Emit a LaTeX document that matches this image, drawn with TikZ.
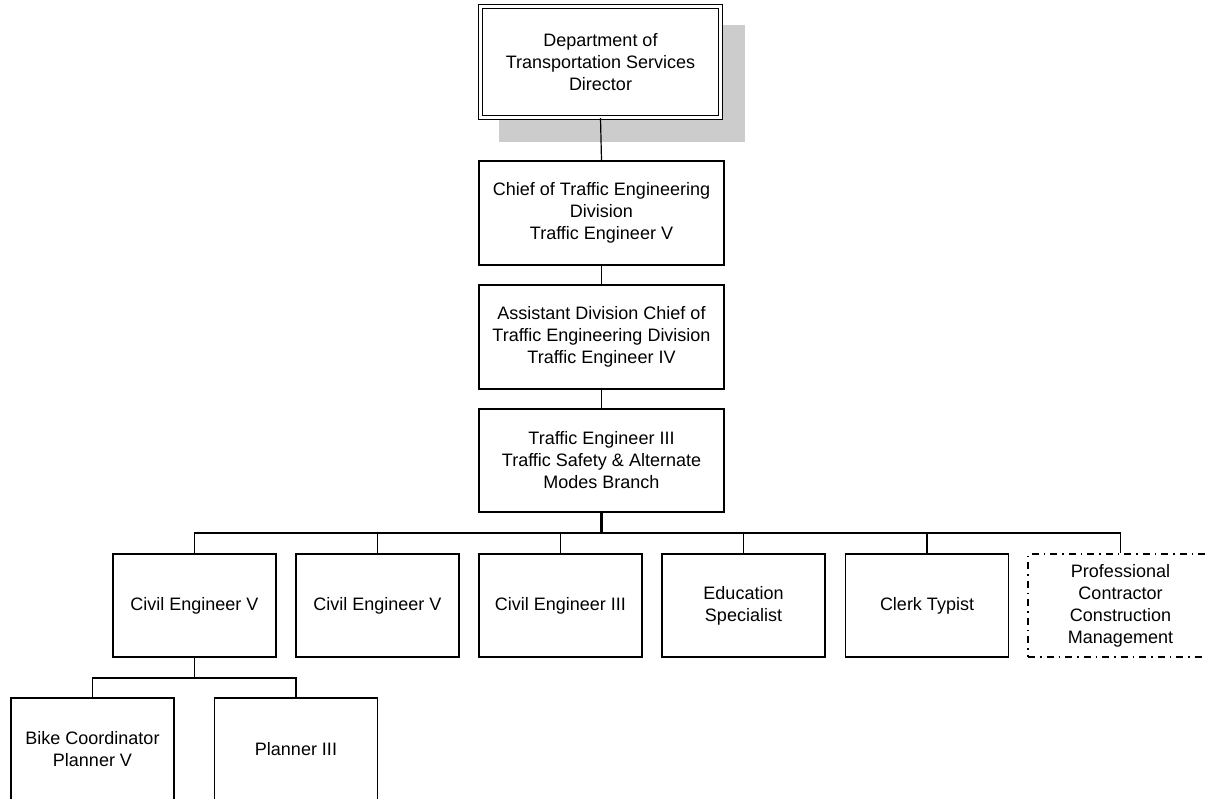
\documentclass[tikz,border=0pt]{standalone}
\usepackage{fontspec}
\setmainfont{Liberation Sans}
\begin{document}
\begin{tikzpicture}[x=1pt,y=-1pt,
  box/.style={draw=black, line width=1.2pt, fill=white, inner sep=0pt, align=center,
    minimum width=163pt, minimum height=103pt, font=\fontsize{18}{22}\selectfont},
  bigbox/.style={box, minimum width=245pt, minimum height=104pt},
  dirbox/.style={box, line width=1.3pt, double=white, double distance=2.5pt,
    minimum width=240pt, minimum height=111pt},
  dashdotbox/.style={box, dash pattern=on 7pt off 5pt on 1.5pt off 5pt, minimum width=185pt},
  conn/.style={draw=black, line width=1.2pt},
  thickconn/.style={draw=black, line width=2.2pt}]
\useasboundingbox (0,0) rectangle (1205,799);
% shadow
\fill[gray!40] (499,25) rectangle (745,142);
\node[dirbox] (dir) at (600.5,62) {Department of\\Transportation Services\\Director};
\node[bigbox] (chief) at (601.5,213) {Chief of Traffic Engineering\\Division\\Traffic Engineer V};
\node[bigbox] (asst) at (601.5,337) {Assistant Division Chief of\\Traffic Engineering Division\\Traffic Engineer IV};
\node[bigbox, minimum height=103pt] (te3) at (601.5,460.5) {Traffic Engineer III\\Traffic Safety \& Alternate\\Modes Branch};
\node[box] (ce1) at (194.5,605.5) {Civil Engineer V};
\node[box] (ce2) at (377.5,605.5) {Civil Engineer V};
\node[box] (ce3) at (560.5,605.5) {Civil Engineer III};
\node[box] (edu) at (743.5,605.5) {Education\\Specialist};
\node[box] (clerk) at (927,605.5) {Clerk Typist};
\node[dashdotbox] (prof) at (1120.5,605.5) {Professional\\Contractor\\Construction\\Management};
\node[box] (bike) at (92.5,749.5) {Bike Coordinator\\Planner V};
\node[box] (plan) at (296,749.5) {Planner III};
\coordinate (bus) at (601.5,533);
\coordinate (subbus) at (194.5,678);
% connectors
\draw[conn] (dir.south) -- (chief.north);
\draw[conn] (chief.south) -- (asst.north);
\draw[conn] (asst.south) -- (te3.north);
\draw[thickconn] (te3.south) -- (bus);
\foreach \n in {ce1,ce2,ce3,edu,clerk,prof} {
  \draw[conn] (bus) -| (\n.north);
}
\draw[conn] (ce1.south) -- (subbus);
\draw[conn] (subbus) -| (bike.north);
\draw[conn] (subbus) -| (plan.north);
\end{tikzpicture}
\end{document}
